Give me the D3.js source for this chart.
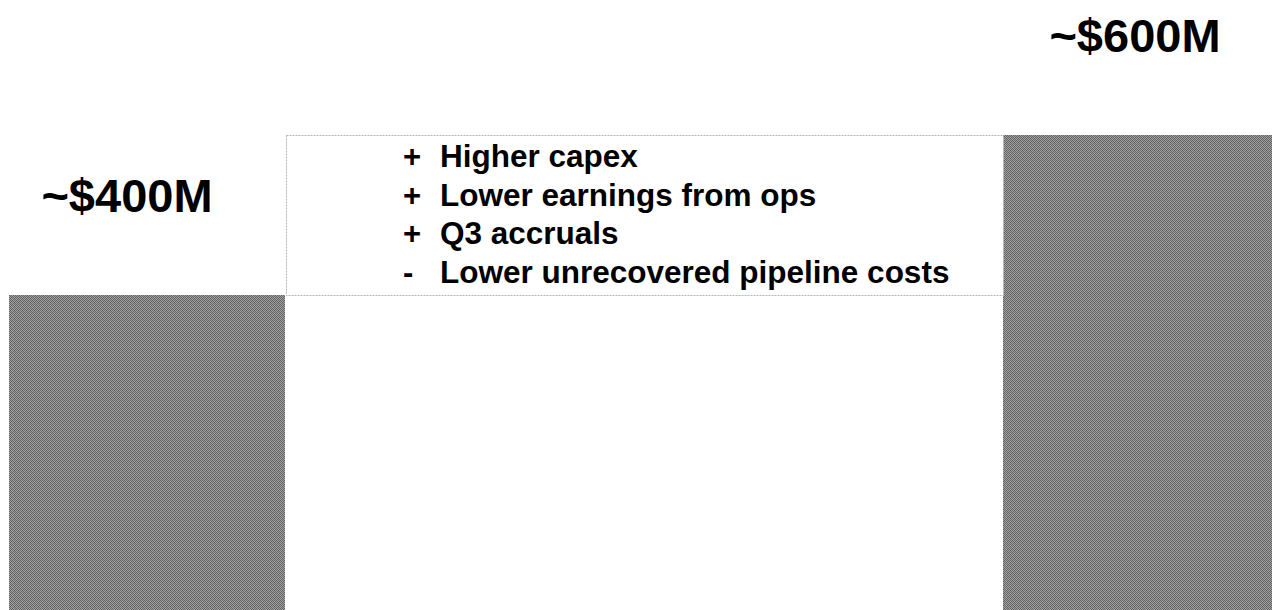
<!DOCTYPE html>
<html lang="en">
<head>
    <meta charset="UTF-8">
    <title>Bridge ~$400M to ~$600M</title>
    <script src="https://cdnjs.cloudflare.com/ajax/libs/d3/7.8.5/d3.min.js"></script>
    <style>
        html, body { margin: 0; padding: 0; background: #fff; }
        #CHART text {
            font-family: "Liberation Sans", Arial, sans-serif;
            font-weight: bold;
            fill: #000;
        }
    </style>
</head>
<body>
    <svg id="CHART"></svg>
    <script>
        // data
        var categories = ["start", "end"];
        var values = [400, 600];
        var valueLabels = ["~$400M", "~$600M"];
        var driverSigns = ["+", "+", "+", "-"];
        var driverTexts = ["Higher capex", "Lower earnings from ops", "Q3 accruals", "Lower unrecovered pipeline costs"];

        var width = 1272, height = 610;
        var barWidth = 276;

        var svg = d3.select("#CHART")
            .attr("width", width)
            .attr("height", height);

        // dithered gray fill like the scanned bars
        var defs = svg.append("defs");
        var pat = defs.append("pattern")
            .attr("id", "dither")
            .attr("patternUnits", "userSpaceOnUse")
            .attr("width", 4).attr("height", 4);
        var cells = [
            ["#5c5c5c", "#a4a4a4", "#6c6c6c", "#989898"],
            ["#9c9c9c", "#646464", "#a8a8a8", "#606060"],
            ["#6e6e6e", "#a0a0a0", "#5a5a5a", "#a2a2a2"],
            ["#a6a6a6", "#626262", "#9a9a9a", "#686868"]
        ];
        cells.forEach(function(row, j){
            row.forEach(function(c, i){
                pat.append("rect").attr("x", i).attr("y", j)
                    .attr("width", 1).attr("height", 1)
                    .attr("fill", c).attr("shape-rendering", "crispEdges");
            });
        });

        var x = d3.scalePoint().domain(categories).range([147, 1141]);
        var y = d3.scaleLinear().domain([0, 600]).range([615, 135]);

        // bars
        svg.append("g")
            .selectAll("rect")
            .data(values)
            .join("rect")
                .attr("x", function(d, i){ return x(categories[i]) - barWidth / 2; })
                .attr("y", function(d){ return y(d); })
                .attr("width", barWidth)
                .attr("height", function(d){ return y(0) - y(d); })
                .attr("fill", "url(#dither)")
                .attr("shape-rendering", "crispEdges");

        // bridge box between the two bars
        var bx0 = x(categories[0]) + barWidth / 2 + 1;
        var bx1 = x(categories[1]) - barWidth / 2;
        var by0 = y(d3.max(values));
        var by1 = y(d3.min(values));
        svg.append("rect")
            .attr("x", bx0 + 0.5)
            .attr("y", by0 + 0.5)
            .attr("width", bx1 - bx0)
            .attr("height", by1 - by0)
            .attr("fill", "#fff")
            .attr("stroke", "#b4b4b4")
            .attr("stroke-width", 1)
            .attr("stroke-dasharray", "2,1");

        // drivers list
        var list = svg.append("g")
            .selectAll("g")
            .data(driverTexts)
            .join("g")
                .attr("transform", function(d, i){ return "translate(0," + (by0 + 32 + i * 38.5) + ")"; });
        list.append("text")
            .attr("x", bx0 + 117)
            .style("font-size", "31px")
            .text(function(d, i){ return driverSigns[i]; });
        list.append("text")
            .attr("x", bx0 + 154)
            .style("font-size", "31.5px")
            .text(function(d){ return d; });

        // value labels above bars
        var labelDx = [-20, -6];
        svg.append("g")
            .selectAll("text")
            .data(values)
            .join("text")
                .attr("x", function(d, i){ return x(categories[i]) + labelDx[i]; })
                .attr("y", function(d){ return y(d) - 83; })
                .attr("text-anchor", "middle")
                .style("font-size", "47px")
                .text(function(d, i){ return valueLabels[i]; });
    </script>
</body>
</html>
